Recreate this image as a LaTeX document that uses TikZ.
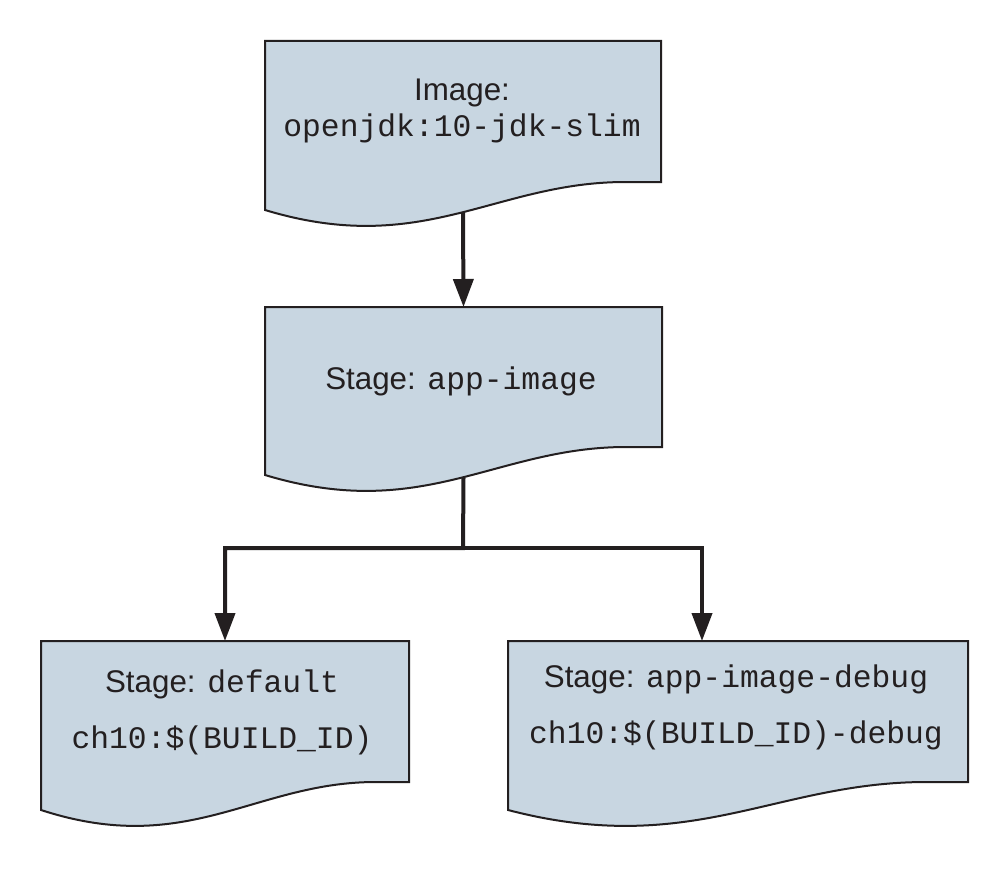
\documentclass[tikz,border=0pt]{standalone}
\usepackage{fontspec}
\setsansfont{Liberation Sans}
\setmonofont{Liberation Mono}
\usetikzlibrary{arrows.meta}

\definecolor{docblue}{HTML}{C8D6E1}
\definecolor{docline}{HTML}{231F20}

\tikzset{
  docbox/.style={fill=docblue, draw=docline, line width=1.5pt},
  conn/.style={draw=docline, line width=3pt, -{Triangle[length=21pt,width=15pt]}},
  lbl/.style={anchor=base, inner sep=0pt, text=docline,
    font=\sffamily\fontsize{23.5}{28}\selectfont},
}

% name, left, right, top, bottom at left, bottom at right
\newcommand{\docshape}[6]{%
  \filldraw[docbox] (#2,#4) -- (#3,#4) -- (#3,#6)
    -- ({#2+0.91*(#3-#2)},#6)
    .. controls ({#2+0.58*(#3-#2)},#6) and ({#2+0.40*(#3-#2)},{#5+48}) .. (#2,#5)
    -- cycle;
  \coordinate (#1-n) at ({(#2+#3)/2},#4);
  \coordinate (#1-s) at ({(#2+#3)/2},{#5+3});
}

\begin{document}
\begin{tikzpicture}[x=0.75pt,y=-0.75pt]
  \useasboundingbox (0,0) rectangle (1007,874);

  \docshape{img}{265}{661}{41}{210}{182}
  \docshape{app}{265}{662}{307}{475}{447}
  \docshape{def}{41}{409}{641}{810}{782}
  \docshape{dbg}{508}{968}{641}{810}{782}

  \node[lbl] (img-name) at (462,100) {Image:};
  \node[lbl] (img-tag) at (462,137) {\ttfamily openjdk:10-jdk-slim};
  \node[lbl] (app-name) at (461,389) {Stage: \texttt{app-image}};
  \node[lbl] (def-name) at (222,692) {Stage: \texttt{default}};
  \node[lbl] (def-tag) at (222,748) {\ttfamily ch10:\$(BUILD\_ID)};
  \node[lbl] (dbg-name) at (736,687) {Stage: \texttt{app-image-debug}};
  \node[lbl] (dbg-tag) at (736,743) {\ttfamily ch10:\$(BUILD\_ID)-debug};

  \coordinate (bus) at (463,548);
  \draw[conn] (img-s) -- (app-n);
  \draw[conn] (app-s) -- (bus) -| (def-n);
  \draw[conn] (bus) -| ([xshift=-27pt]dbg-n);
\end{tikzpicture}
\end{document}
